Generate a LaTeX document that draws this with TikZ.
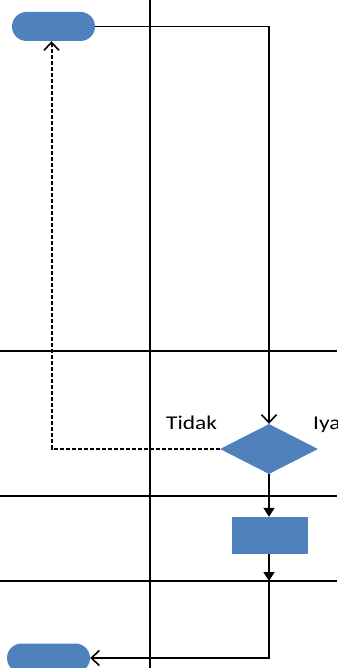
\documentclass[tikz,border=0pt]{standalone}
\usepackage{fontspec}
\setmainfont{Carlito}
\newfontfamily\lblfont[FakeStretch=1.2]{Carlito}
\usetikzlibrary{shapes.geometric,shapes.misc,arrows.meta}
\definecolor{boxblue}{HTML}{4F81BD}
\begin{document}
\begin{tikzpicture}[x=1pt,y=-1pt,
  lane/.style={line width=2pt,black},
  conn/.style={line width=1.6pt,black},
  openhead/.style={-{Straight Barb[length=8pt,width=15pt,line width=1.6pt]}},
  fillhead/.style={-{Triangle[length=9pt,width=11pt]}},
  term/.style={rounded rectangle,fill=boxblue,draw=none,minimum width=83pt,minimum height=29pt,inner sep=0pt},
  procbox/.style={rectangle,fill=boxblue,draw=none,minimum width=76pt,minimum height=37pt,inner sep=0pt},
  decbox/.style={diamond,fill=boxblue,draw=none,minimum width=98pt,minimum height=50pt,inner sep=0pt},
  lbl/.style={font=\lblfont\fontsize{19.5pt}{22pt}\selectfont,inner sep=0pt,anchor=base west}
]
\useasboundingbox (0,0) rectangle (337,668);
% lanes
\coordinate (vtop) at (150,0);
\coordinate (vbot) at (150,668);
\draw[lane] (vtop) -- (vbot);
\foreach \yy/\nm in {351/a,496/b,581/c}{
  \coordinate (l\nm) at (0,\yy);
  \coordinate (r\nm) at (337,\yy);
  \draw[lane] (l\nm) -- (r\nm);
}
% nodes
\node[term] (startT) at (53.5,26.5) {};
\node[decbox] (decision) at (269,449) {};
\node[procbox] (proc) at (270,535.5) {};
\node[term] (endT) at (48.5,658) {};
\coordinate (mid) at (269,581);
\node[lbl] (tidak) at (166,429) {Tidak};
\node[lbl] (iya) at (313,429) {Iya};
% connectors
\draw[conn,openhead] (startT.east) -| (decision.north);
\draw[line width=2pt,dash pattern=on 4pt off 2pt,openhead] (decision.west) -| ([xshift=-2pt]startT.south);
\draw[conn,fillhead] (decision.south) -- (proc.north -| decision.south);
\draw[conn,fillhead] (proc.south -| mid) -- (mid);
\draw[conn,openhead] (mid) |- (endT.east);
\end{tikzpicture}
\end{document}
